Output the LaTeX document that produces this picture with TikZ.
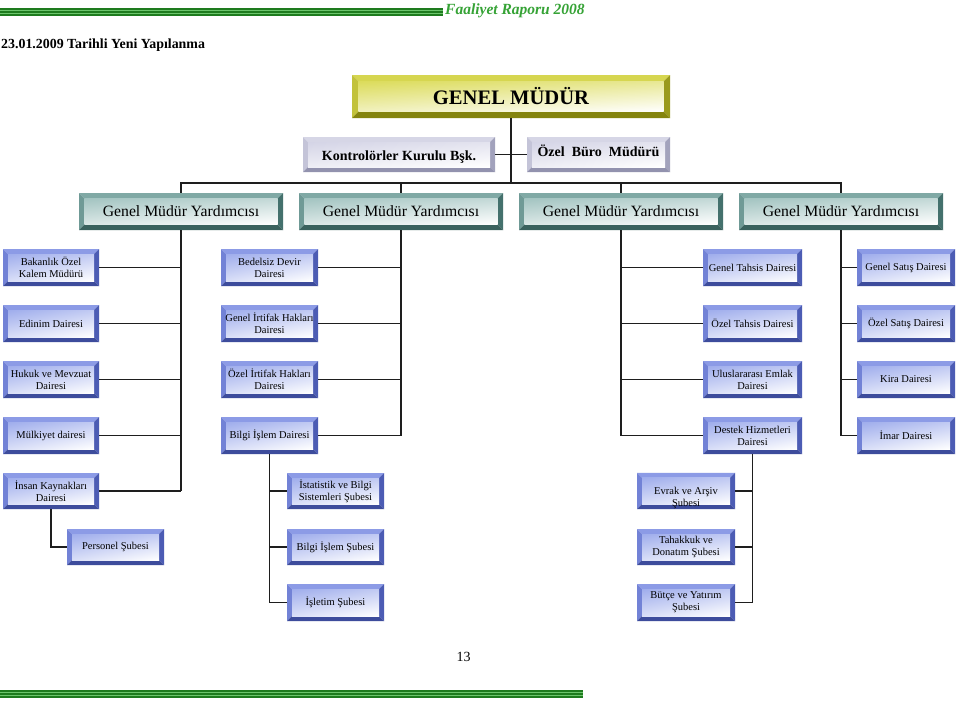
\documentclass[tikz,border=0pt]{standalone}
\usepackage{fontspec}
\setmainfont{Liberation Serif}
\usetikzlibrary{calc,shadings}

\definecolor{dkgreen}{HTML}{1E7B1E}
\definecolor{ltgreen}{HTML}{6CC56C}
\definecolor{hdrgreen}{HTML}{36A336}
\definecolor{connc}{HTML}{1E1E1E}
% blue
\definecolor{bT}{HTML}{8C9BE6}
\definecolor{bL}{HTML}{7282D6}
\definecolor{bR}{HTML}{4C5CB4}
\definecolor{bB}{HTML}{3D4C9C}
\definecolor{bI}{HTML}{9FADEC}
% teal
\definecolor{tT}{HTML}{80A9A5}
\definecolor{tL}{HTML}{6F9A96}
\definecolor{tR}{HTML}{44716D}
\definecolor{tB}{HTML}{3A625E}
\definecolor{tI}{HTML}{A3C4C1}
% olive
\definecolor{oT}{HTML}{D6D650}
\definecolor{oL}{HTML}{C2C23A}
\definecolor{oR}{HTML}{9A9A1C}
\definecolor{oB}{HTML}{84840E}
\definecolor{oI}{HTML}{DCDC5C}
% lavender grey
\definecolor{gT}{HTML}{D6D6E6}
\definecolor{gL}{HTML}{C4C4D8}
\definecolor{gR}{HTML}{A2A2BC}
\definecolor{gB}{HTML}{9292AE}
\definecolor{gI}{HTML}{D4D4E6}

\newcommand{\bevelpic}[6]{%
 \path (path picture bounding box.north west) coordinate (bnw)
       (path picture bounding box.north east) coordinate (bne)
       (path picture bounding box.south west) coordinate (bsw)
       (path picture bounding box.south east) coordinate (bse);
 \path ([shift={(#6,-#6)}]bnw) coordinate (inw)
       ([shift={(-#6,-#6)}]bne) coordinate (ine)
       ([shift={(#6,#6)}]bsw) coordinate (isw)
       ([shift={(-#6,#6)}]bse) coordinate (ise);
 \fill[#1] (bnw) -- (bne) -- (ine) -- (inw) -- cycle;
 \fill[#2] (bnw) -- (inw) -- (isw) -- (bsw) -- cycle;
 \fill[#3] (bne) -- (ine) -- (ise) -- (bse) -- cycle;
 \fill[#4] (bsw) -- (isw) -- (ise) -- (bse) -- cycle;
 \shade[upper left=#5, upper right=#5!65!white, lower left=#5!40!white, lower right=white] (inw) rectangle (ise);
}

\tikzset{
  bevbase/.style n args={6}{rectangle, inner sep=0pt, align=center,
     path picture={\bevelpic{#1}{#2}{#3}{#4}{#5}{#6}}},
  bbox/.style={bevbase={bT}{bL}{bR}{bB}{bI}{5pt}, minimum width=97, minimum height=37,
     font=\fontsize{10.5}{12}\selectfont},
  gmybox/.style={bevbase={tT}{tL}{tR}{tB}{tI}{5.5pt}, minimum width=204, minimum height=37,
     font=\fontsize{15.7}{18}\selectfont},
  gmbox/.style={bevbase={oT}{oL}{oR}{oB}{oI}{6.5pt}, minimum width=318, minimum height=43,
     font=\bfseries\fontsize{20.6}{24}\selectfont},
  kbox/.style={bevbase={gT}{gL}{gR}{gB}{gI}{5pt}, minimum height=35,
     font=\bfseries\fontsize{14}{16}\selectfont},
  conn/.style={draw=connc, line width=1.5pt},
}

\begin{document}
\begin{tikzpicture}[x=1pt,y=-1pt]
\useasboundingbox (0,0) rectangle (960,702);
\fill[white] (0,0) rectangle (960,702);

% header band
\fill[ltgreen] (0,7.5) rectangle (443,16);
\fill[dkgreen] (0,8) rectangle (443,9.5);
\fill[dkgreen] (0,11) rectangle (443,13);
\fill[dkgreen] (0,14.3) rectangle (443,15.6);
\node[anchor=west, inner sep=0, text=hdrgreen, font=\bfseries\itshape\fontsize{15.5}{18}\selectfont] (fr) at (445,11) {Faaliyet Raporu 2008};
\node[anchor=west, inner sep=0, font=\bfseries\fontsize{13.9}{16}\selectfont] (title) at (1,45) {23.01.2009 Tarihli Yeni Yapılanma};

% footer band
\fill[ltgreen] (0,689.5) rectangle (583,698);
\fill[dkgreen] (0,690) rectangle (583,691.5);
\fill[dkgreen] (0,693) rectangle (583,695);
\fill[dkgreen] (0,696.3) rectangle (583,697.6);
\node[inner sep=0, font=\fontsize{14}{16}\selectfont] (pg) at (463.5,657) {13};

% top
\node[gmbox] (gm) at (511,96.5) {GENEL MÜDÜR};
\node[kbox, minimum width=192] (kk) at (399,154.5) {\vphantom{Öy}\smash{\raisebox{-2pt}{Kontrolörler Kurulu Bşk.}}};
\node[kbox, minimum width=143] (ob) at (598.5,154.5) {\vphantom{Öy}\smash{\raisebox{2.5pt}{Özel\ \ Büro\ \ Müdürü}}};

% deputies
\node[gmybox] (gmy1) at (181,211.5) {Genel Müdür Yardımcısı};
\node[gmybox] (gmy2) at (401,211.5) {Genel Müdür Yardımcısı};
\node[gmybox] (gmy3) at (621,211.5) {Genel Müdür Yardımcısı};
\node[gmybox] (gmy4) at (841,211.5) {Genel Müdür Yardımcısı};

% column A
\node[bbox, minimum width=96] (bk) at (51,267.5) {Bakanlık Özel\\Kalem Müdürü};
\node[bbox, minimum width=96] (ed) at (51,323.5) {Edinim Dairesi};
\node[bbox, minimum width=96] (hm) at (51,379.5) {Hukuk ve Mevzuat\\Dairesi};
\node[bbox, minimum width=96] (mk) at (51,435.5) {Mülkiyet dairesi};
\node[bbox, minimum width=96, minimum height=36] (ik) at (51,491) {İnsan Kaynakları\\Dairesi};
\node[bbox, minimum height=36] (ps) at (115.5,547) {Personel Şubesi};

% column B
\node[bbox] (bd) at (269.5,267.5) {Bedelsiz Devir\\Dairesi};
\node[bbox] (gi) at (269.5,323.5) {Genel İrtifak Hakları\\Dairesi};
\node[bbox] (oi) at (269.5,379.5) {Özel İrtifak Hakları\\Dairesi};
\node[bbox] (bi) at (269.5,435.5) {Bilgi İşlem Dairesi};
\node[bbox, minimum height=36] (is) at (335.5,491) {İstatistik ve Bilgi\\Sistemleri Şubesi};
\node[bbox, minimum height=36] (bs) at (335.5,547) {Bilgi İşlem Şubesi};
\node[bbox] (il) at (335.5,602.5) {İşletim Şubesi};

% column C
\node[bbox, minimum width=99] (gt) at (752.5,267.5) {Genel Tahsis Dairesi};
\node[bbox, minimum width=99] (ot) at (752.5,323.5) {Özel Tahsis Dairesi};
\node[bbox, minimum width=99] (ue) at (752.5,379.5) {Uluslararası Emlak\\Dairesi};
\node[bbox, minimum width=99] (dh) at (752.5,435.5) {Destek Hizmetleri\\Dairesi};
\node[bbox, minimum width=98, minimum height=36] (ev) at (686,491) {\rule{0pt}{22pt}Evrak ve Arşiv\\Şubesi};
\node[bbox, minimum width=98, minimum height=36] (td) at (686,547) {Tahakkuk ve\\Donatım Şubesi};
\node[bbox, minimum width=98] (by) at (686,602.5) {Bütçe ve Yatırım\\Şubesi};

% column D
\node[bbox, minimum width=98] (gs) at (906,267.5) {Genel Satış Dairesi};
\node[bbox, minimum width=98] (os) at (906,323.5) {Özel Satış Dairesi};
\node[bbox, minimum width=98] (kd) at (906,379.5) {Kira Dairesi};
\node[bbox, minimum width=98] (im) at (906,435.5) {İmar Dairesi};

% connectors
\coordinate (bus) at (181,183);
\draw[conn] (gm.south) -- (gm.south |- bus);
\draw[conn] (kk.east) -- (ob.west);
\draw[conn] (gmy1.north) -- (gmy1.north |- bus) -| (gmy4.north);
\draw[conn] (gmy2.north) -- (gmy2.north |- bus);
\draw[conn] (gmy3.north) -- (gmy3.north |- bus);

\draw[conn] (gmy1.south) -- (gmy1.south |- ik.east);
\foreach \n in {bk,ed,hm,mk,ik} \draw[conn] (\n.east) -- (\n.east -| gmy1.south);
\draw[conn] (ik.south) |- (ps.west);

\draw[conn] (gmy2.south) -- (gmy2.south |- bi.east);
\foreach \n in {bd,gi,oi,bi} \draw[conn] (\n.east) -- (\n.east -| gmy2.south);
\draw[conn] (bi.south) -- (bi.south |- il.west);
\foreach \n in {is,bs,il} \draw[conn] (\n.west) -- (\n.west -| bi.south);

\draw[conn] (gmy3.south) -- (gmy3.south |- dh.west);
\foreach \n in {gt,ot,ue,dh} \draw[conn] (\n.west) -- (\n.west -| gmy3.south);
\draw[conn] (dh.south) -- (dh.south |- by.east);
\foreach \n in {ev,td,by} \draw[conn] (\n.east) -- (\n.east -| dh.south);

\draw[conn] (gmy4.south) -- (gmy4.south |- im.west);
\foreach \n in {gs,os,kd,im} \draw[conn] (\n.west) -- (\n.west -| gmy4.south);
\end{tikzpicture}
\end{document}
